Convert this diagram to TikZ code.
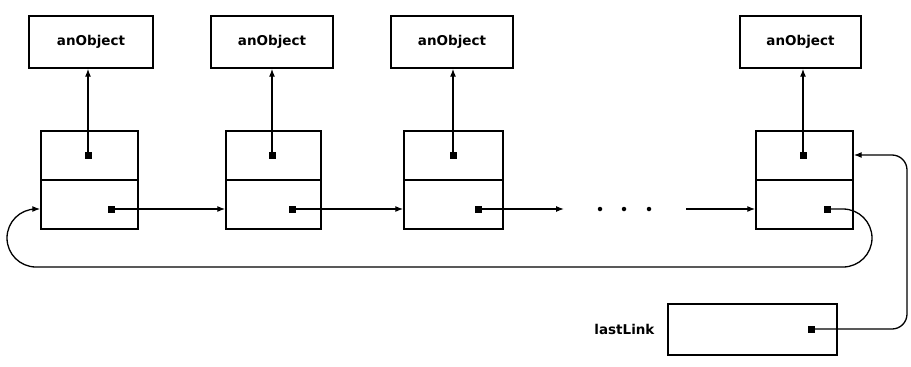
\documentclass[tikz,border=0pt]{standalone}
\usepackage{fontspec}
\setmainfont{DejaVu Sans}
\usetikzlibrary{arrows.meta}
\begin{document}
\begin{tikzpicture}[x=1pt,y=-1pt,
  box/.style={draw,line width=1.4pt,inner sep=0pt},
  objbox/.style={box,minimum height=52pt,font=\bfseries\fontsize{13.5}{15}\selectfont},
  linkbox/.style={box,minimum height=98pt},
  dot/.style={fill,rectangle,inner sep=0pt,minimum size=7pt},
  pdot/.style={fill,circle,inner sep=0pt,minimum size=4.5pt},
  ptr/.style={line width=1.3pt,-{Latex[length=8pt,width=6pt]}},
  lbl/.style={font=\bfseries\fontsize{13.5}{15}\selectfont}]
\useasboundingbox (0,0) rectangle (911,367);
% object boxes
\node[objbox,minimum width=124pt] (o1) at (91,42) {anObject};
\node[objbox,minimum width=122pt] (o2) at (272,42) {anObject};
\node[objbox,minimum width=122pt] (o3) at (452,42) {anObject};
\node[objbox,minimum width=121pt] (o4) at (800.5,42) {anObject};
% link boxes
\node[linkbox,minimum width=97pt] (l1) at (89.5,180) {};
\node[linkbox,minimum width=95pt] (l2) at (273.5,180) {};
\node[linkbox,minimum width=99pt] (l3) at (453.5,180) {};
\node[linkbox,minimum width=97pt] (l4) at (804.5,180) {};
\foreach \n in {l1,l2,l3,l4}
  \draw[line width=1.4pt] (\n.west) -- (\n.east);
% lastLink box
\node[box,minimum width=169pt,minimum height=51pt] (ll) at (752.5,329.5) {};
\node[lbl,anchor=east] (lltext) at (658,329) {lastLink};
% dots for object pointers
\node[dot] (t1) at (88,155) {};
\node[dot] (t2) at (272,155) {};
\node[dot] (t3) at (453,155) {};
\node[dot] (t4) at (803,155) {};
\foreach \i in {1,2,3,4}
  \draw[ptr] (t\i.center) -- (t\i.center |- o\i.south);
% next pointers
\node[dot] (n1) at (111,209) {};
\node[dot] (n2) at (292,209) {};
\node[dot] (n3) at (478,209) {};
\node[dot] (n4) at (827,209) {};
\node[dot] (lp) at (811,329) {};
\coordinate (e3) at (564,209);
\coordinate (s4) at (686,209);
\draw[ptr] (n1.center) -- (n1.center -| l2.west);
\draw[ptr] (n2.center) -- (n2.center -| l3.west);
\draw[ptr] (n3.center) -- (e3);
\draw[ptr] (s4) -- (s4 -| l4.west);
\node[pdot] (q1) at (600,209) {};
\node[pdot] (q2) at (624,209) {};
\node[pdot] (q3) at (649,209) {};
% loop back to first
\draw[ptr,rounded corners=29pt] (n4.center) -- (872,209) -- (872,267) -- (7,267) -- (7,209) -- (n1.center -| l1.west);
% lastLink pointer
\draw[ptr,rounded corners=15pt] (lp.center) -- (907,329) -- (907,155) -- (t4.center -| l4.east);
\end{tikzpicture}
\end{document}
